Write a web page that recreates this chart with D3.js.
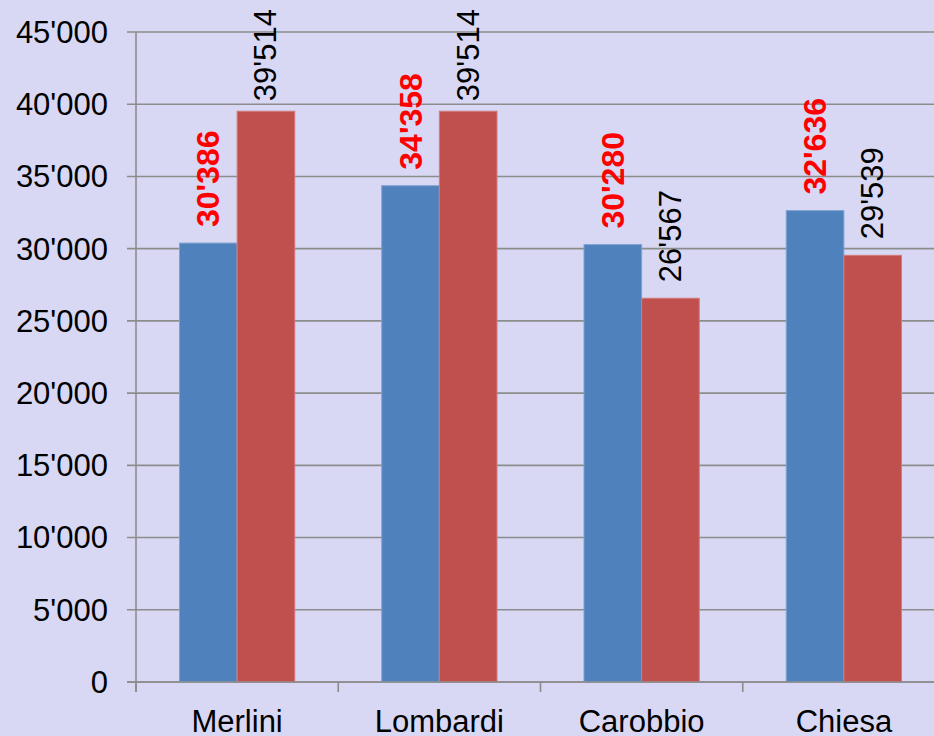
<!DOCTYPE html>
<html>
<head>
<meta charset="utf-8">
<script src="https://cdn.jsdelivr.net/npm/d3@7"></script>
<style>
  body { margin: 0; background: #d8d8f4; }
  svg { display: block; font-family: "Liberation Sans", Arial, sans-serif; }
</style>
</head>
<body>
<div id="wrapper"></div>
<script>
const categories = ["Merlini", "Lombardi", "Carobbio", "Chiesa"];
const seriesA = [30386, 34358, 30280, 32636];   // blue bars, red bold labels
const seriesB = [39514, 39514, 26567, 29539];   // red bars, black labels
const yTicks = [0, 5000, 10000, 15000, 20000, 25000, 30000, 35000, 40000, 45000];

function buildPlot() {
    const dimension = {
        width: 934,
        height: 736,
        margin: { top: 32, left: 136, bottom: 54, right: -11 }
    };
    dimension.boundedWidth = dimension.width - dimension.margin.left - dimension.margin.right;
    dimension.boundedHeight = dimension.height - dimension.margin.top - dimension.margin.bottom;

    const fmt = v => d3.format(",")(v).replace(/,/g, "'");

    const svg = d3.select("#wrapper").append("svg")
        .attr("width", dimension.width)
        .attr("height", dimension.height);

    svg.append("rect")
        .attr("width", dimension.width)
        .attr("height", dimension.height)
        .attr("fill", "#d8d8f4");

    const bounded = svg.append("g")
        .attr("transform", `translate(${dimension.margin.left},${dimension.margin.top})`);

    const yScaler = d3.scaleLinear()
        .domain([0, 45000])
        .range([dimension.boundedHeight, 0]);

    const xScaler = d3.scaleBand()
        .domain(categories)
        .range([0, dimension.boundedWidth]);

    const inner = d3.scaleBand()
        .domain(["a", "b"])
        .range([43.5, xScaler.bandwidth() - 43.5]);

    // gridlines
    bounded.append("g")
        .selectAll("line")
        .data(yTicks)
        .join("line")
        .attr("x1", -9)
        .attr("x2", dimension.boundedWidth)
        .attr("y1", d => yScaler(d))
        .attr("y2", d => yScaler(d))
        .attr("stroke", "#8c8c8c")
        .attr("stroke-width", 1.6);

    // y tick labels
    bounded.append("g")
        .selectAll("text")
        .data(yTicks)
        .join("text")
        .attr("x", -28)
        .attr("y", d => yScaler(d))
        .attr("dy", "0.35em")
        .attr("text-anchor", "end")
        .style("font-size", "31px")
        .attr("fill", "#000")
        .text(fmt);

    // y axis line
    bounded.append("line")
        .attr("x1", 0).attr("x2", 0)
        .attr("y1", 0).attr("y2", dimension.boundedHeight + 10)
        .attr("stroke", "#8c8c8c")
        .attr("stroke-width", 1.6);

    // x category ticks
    bounded.append("g")
        .selectAll("line")
        .data(categories)
        .join("line")
        .attr("x1", d => xScaler(d))
        .attr("x2", d => xScaler(d))
        .attr("y1", dimension.boundedHeight)
        .attr("y2", dimension.boundedHeight + 10)
        .attr("stroke", "#8c8c8c")
        .attr("stroke-width", 1.6);

    const groups = bounded.append("g")
        .selectAll("g")
        .data(categories)
        .join("g")
        .attr("transform", d => `translate(${xScaler(d)},0)`);

    const rows = categories.map((c, i) => [
        { key: "a", value: seriesA[i], fill: "#4f81bd", stroke: "#7ea1d2", label: "#ff0000", weight: "bold", size: 32 },
        { key: "b", value: seriesB[i], fill: "#c0504d", stroke: "#d27a78", label: "#000000", weight: "normal", size: 31 }
    ]);

    groups.selectAll("rect")
        .data((d, i) => rows[i])
        .join("rect")
        .attr("x", d => inner(d.key))
        .attr("width", inner.bandwidth())
        .attr("y", d => yScaler(d.value))
        .attr("height", d => dimension.boundedHeight - yScaler(d.value))
        .attr("fill", d => d.fill)
        .attr("stroke", d => d.stroke)
        .attr("stroke-width", 1);

    // value labels, rotated
    groups.selectAll("text.val")
        .data((d, i) => rows[i])
        .join("text")
        .attr("class", "val")
        .attr("text-anchor", "start")
        .attr("dominant-baseline", "central")
        .style("font-size", d => d.size + "px")
        .style("font-weight", d => d.weight)
        .attr("fill", d => d.label)
        .text(d => fmt(d.value))
        .each(function (d) {
            const len = this.getComputedTextLength();
            let yb = yScaler(d.value) + dimension.margin.top - 16;
            if (yb - len < 9) yb = 9 + len;
            const cx = inner(d.key) + inner.bandwidth() / 2;
            d3.select(this).attr("transform",
                `translate(${cx},${yb - dimension.margin.top}) rotate(-90)`);
        });

    // x axis line
    bounded.append("line")
        .attr("x1", -9).attr("x2", dimension.boundedWidth)
        .attr("y1", dimension.boundedHeight).attr("y2", dimension.boundedHeight)
        .attr("stroke", "#8c8c8c")
        .attr("stroke-width", 1.6);

    // category labels
    bounded.append("g")
        .selectAll("text")
        .data(categories)
        .join("text")
        .attr("x", d => xScaler(d) + xScaler.bandwidth() / 2)
        .attr("y", dimension.boundedHeight + 50)
        .attr("text-anchor", "middle")
        .style("font-size", "31px")
        .attr("fill", "#000")
        .text(d => d);
}

buildPlot();
</script>
</body>
</html>
